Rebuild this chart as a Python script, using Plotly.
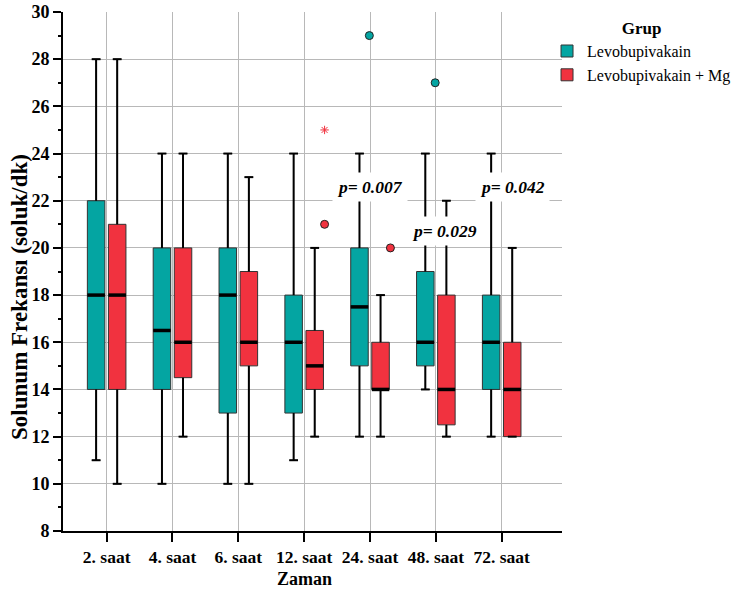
import plotly.graph_objects as go

# ---------------- data ----------------
categories = ["2. saat", "4. saat", "6. saat", "12. saat", "24. saat", "48. saat", "72. saat"]
y_ticks = [8, 10, 12, 14, 16, 18, 20, 22, 24, 26, 28, 30]

levo_lower = [11, 10, 10, 11, 12, 14, 12]
levo_q1 = [14, 14, 13, 13, 15, 15, 14]
levo_median = [18, 16.5, 18, 16, 17.5, 16, 16]
levo_q3 = [22, 20, 20, 18, 20, 19, 18]
levo_upper = [28, 24, 24, 24, 24, 24, 24]

mg_lower = [10, 12, 10, 12, 12, 12, 12]
mg_q1 = [14, 14.5, 15, 14, 14, 12.5, 12]
mg_median = [18, 16, 16, 15, 14, 14, 14]
mg_q3 = [21, 20, 19, 16.5, 16, 18, 16]
mg_upper = [28, 24, 23, 20, 18, 22, 20]

# outliers: (category index, value)
levo_out_cat = [4, 5]
levo_out_val = [29, 27]
mg_out_cat = [3, 4]
mg_out_val = [21, 20]
mg_extreme_cat = [3]
mg_extreme_val = [25]

p_labels = ["p= 0.007", "p= 0.029", "p= 0.042"]
p_cat = [4, 5.13, 6.16]
p_val = [22.6, 20.7, 22.58]

# ---------------- style ----------------
TEAL = "#04A5A2"
RED = "#F1323F"
FONT = "Liberation Serif"
OFFSET = 0.16
BOXW = 0.266
CAPW = BOXW * 0.5
OUT_SHIFT = 0.15

fig = go.Figure()

groups = [
    ("Levobupivakain", TEAL, -OFFSET, levo_lower, levo_q1, levo_median, levo_q3, levo_upper),
    ("Levobupivakain + Mg", RED, OFFSET, mg_lower, mg_q1, mg_median, mg_q3, mg_upper),
]

for name, color, off, lo, q1, med, q3, up in groups:
    pos = [i + off for i in range(len(categories))]
    fig.add_trace(go.Box(
        name=name, x=pos, q1=q1, median=med, q3=q3,
        lowerfence=lo, upperfence=up, width=BOXW,
        fillcolor=color, line=dict(color="#333333", width=1),
        whiskerwidth=0.5, boxpoints=False, hoverinfo="skip",
    ))

for name, color, off, lo, q1, med, q3, up in groups:
    pos = [i + off for i in range(len(categories))]
    wx, wy = [], []
    for p, a, b, c, d in zip(pos, lo, q1, q3, up):
        wx += [p, p, None, p, p, None, p - CAPW / 2, p + CAPW / 2, None, p - CAPW / 2, p + CAPW / 2, None]
        wy += [c, d, None, b, a, None, d, d, None, a, a, None]
    fig.add_trace(go.Scatter(x=wx, y=wy, mode="lines", line=dict(color="black", width=2),
                             showlegend=False, hoverinfo="skip"))
    mx, my = [], []
    for p, m in zip(pos, med):
        mx += [p - BOXW / 2, p + BOXW / 2, None]
        my += [m, m, None]
    fig.add_trace(go.Scatter(x=mx, y=my, mode="lines", line=dict(color="black", width=3.5),
                             showlegend=False, hoverinfo="skip"))

fig.add_trace(go.Scatter(
    x=[c - OFFSET + OUT_SHIFT for c in levo_out_cat], y=levo_out_val, mode="markers",
    marker=dict(symbol="circle", size=8, color=TEAL, line=dict(color="#222222", width=1)),
    showlegend=False, hoverinfo="skip"))
fig.add_trace(go.Scatter(
    x=[c + OFFSET + OUT_SHIFT for c in mg_out_cat], y=mg_out_val, mode="markers",
    marker=dict(symbol="circle", size=8, color=RED, line=dict(color="#222222", width=1)),
    showlegend=False, hoverinfo="skip"))
fig.add_trace(go.Scatter(
    x=[c + OFFSET + OUT_SHIFT for c in mg_extreme_cat], y=mg_extreme_val, mode="markers",
    marker=dict(symbol="asterisk-open", size=7, color=RED, line=dict(color=RED, width=1)),
    showlegend=False, hoverinfo="skip"))

annotations = []
for t, cx, cy in zip(p_labels, p_cat, p_val):
    annotations.append(dict(
        x=cx, y=cy, xref="x", yref="y", text="<b><i>" + t + "</i></b>", showarrow=False,
        font=dict(family=FONT, size=17.5, color="black"), bgcolor="white", borderpad=4,
        xanchor="center", yanchor="middle"))

annotations.append(dict(
    text="<b>Solunum Frekansı (soluk/dk)</b>", textangle=-90, xref="paper", yref="paper",
    x=0, y=0.451, xshift=-43, xanchor="center", yanchor="middle", showarrow=False,
    font=dict(family=FONT, size=23, color="black")))
annotations.append(dict(
    text="<b>Zaman</b>", xref="x", yref="paper", x=3, y=0, yshift=-48,
    xanchor="center", yanchor="middle", showarrow=False,
    font=dict(family=FONT, size=18, color="black")))

fig.update_layout(
    width=737, height=593,
    margin=dict(l=63, r=175, t=12, b=62, autoexpand=False),
    paper_bgcolor="white", plot_bgcolor="white",
    boxmode="overlay",
    font=dict(family=FONT, color="black"),
    annotations=annotations,
    legend=dict(
        x=0.97, y=1.0, xanchor="left", yanchor="top",
        title=dict(text="<b>Grup</b>", side="top center", font=dict(family=FONT, size=17)),
        font=dict(family=FONT, size=16), tracegroupgap=0,
        bgcolor="rgba(0,0,0,0)",
    ),
    xaxis=dict(
        range=[-0.663, 6.916], tickmode="array", tickvals=list(range(len(categories))),
        ticktext=["<b>" + c + "</b>" for c in categories], showgrid=True, gridcolor="#b8b8b8", gridwidth=1,
        ticks="outside", ticklen=9, tickwidth=2, tickcolor="black",
        showline=True, linecolor="black", linewidth=2, zeroline=False,
        tickfont=dict(family=FONT, size=17.5),
    ),
    yaxis=dict(
        range=[8, 30], tickmode="array", tickvals=y_ticks,
        ticktext=["<b>%d</b>" % v for v in y_ticks],
        showgrid=True, gridcolor="#b8b8b8", gridwidth=1,
        ticks="outside", ticklen=8, tickwidth=2, tickcolor="black",
        showline=True, linecolor="black", linewidth=2, zeroline=False,
        tickfont=dict(family=FONT, size=18),
        minor=dict(dtick=1, tick0=8, ticks="outside", ticklen=3, tickwidth=2, tickcolor="black", showgrid=False),
    ),
)

fig.write_html("out.html")
